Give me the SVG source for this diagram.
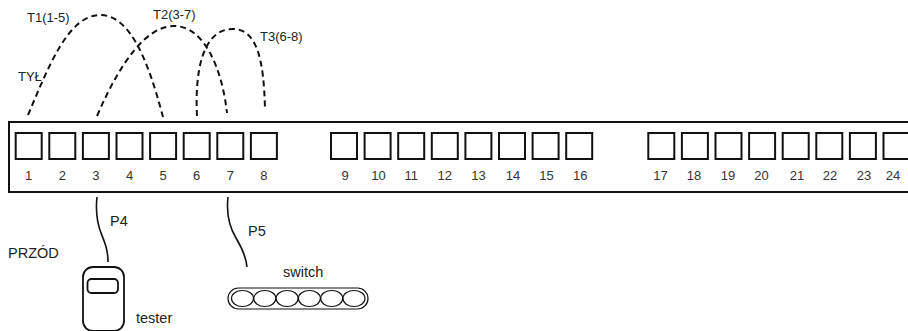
<svg xmlns="http://www.w3.org/2000/svg" width="908" height="331" viewBox="0 0 908 331">
  <style>
    .txt { font-family: "Liberation Sans", Arial, sans-serif; font-size: 14.5px; fill: #222; }
    .top { font-family: "Liberation Sans", Arial, sans-serif; font-size: 13px; fill: #222; }
    .num { font-family: "Liberation Sans", Arial, sans-serif; font-size: 13px; fill: #333; text-anchor: middle; }
    .port { fill: #fff; stroke: #111; stroke-width: 2; }
    .trunk { fill: none; stroke: #111; stroke-width: 2; stroke-dasharray: 6 4; }
    .cable { fill: none; stroke: #111; stroke-width: 1.6; }
  </style>
  <defs>
    <rect id="portBox" class="port" width="26" height="26"/>
  </defs>
  <rect width="908" height="331" fill="#fff"/>

  <!-- patch panel -->
  <g id="panel">
    <rect x="9" y="122" width="920" height="70" fill="#fff" stroke="#111" stroke-width="2"/>
    <g id="ports-1-8">
      <use href="#portBox" x="15.7" y="133"/><use href="#portBox" x="49.3" y="133"/>
      <use href="#portBox" x="82.9" y="133"/><use href="#portBox" x="116.5" y="133"/>
      <use href="#portBox" x="150.1" y="133"/><use href="#portBox" x="183.7" y="133"/>
      <use href="#portBox" x="217.3" y="133"/><use href="#portBox" x="250.9" y="133"/>
      <text class="num" x="28.7" y="180">1</text><text class="num" x="62.3" y="180">2</text>
      <text class="num" x="95.9" y="180">3</text><text class="num" x="129.5" y="180">4</text>
      <text class="num" x="163.1" y="180">5</text><text class="num" x="196.7" y="180">6</text>
      <text class="num" x="230.3" y="180">7</text><text class="num" x="263.9" y="180">8</text>
    </g>
    <g id="ports-9-16">
      <use href="#portBox" x="331" y="133"/><use href="#portBox" x="364.6" y="133"/>
      <use href="#portBox" x="398.2" y="133"/><use href="#portBox" x="431.8" y="133"/>
      <use href="#portBox" x="465.4" y="133"/><use href="#portBox" x="499" y="133"/>
      <use href="#portBox" x="532.6" y="133"/><use href="#portBox" x="566.2" y="133"/>
      <text class="num" x="345" y="180">9</text><text class="num" x="378.6" y="180">10</text>
      <text class="num" x="411.2" y="180">11</text><text class="num" x="444.8" y="180">12</text>
      <text class="num" x="478.4" y="180">13</text><text class="num" x="513" y="180">14</text>
      <text class="num" x="546.6" y="180">15</text><text class="num" x="580.2" y="180">16</text>
    </g>
    <g id="ports-17-24">
      <use href="#portBox" x="648.3" y="133"/><use href="#portBox" x="681.9" y="133"/>
      <use href="#portBox" x="715.5" y="133"/><use href="#portBox" x="749.1" y="133"/>
      <use href="#portBox" x="782.7" y="133"/><use href="#portBox" x="816.3" y="133"/>
      <use href="#portBox" x="849.9" y="133"/><use href="#portBox" x="883.5" y="133"/>
      <text class="num" x="660.5" y="180">17</text><text class="num" x="694" y="180">18</text>
      <text class="num" x="728" y="180">19</text><text class="num" x="761.5" y="180">20</text>
      <text class="num" x="797" y="180">21</text><text class="num" x="830" y="180">22</text>
      <text class="num" x="864" y="180">23</text><text class="num" x="893" y="180">24</text>
    </g>
  </g>

  <!-- rear trunk links and front patch cords -->
  <g id="connectors">
    <path class="trunk" d="M28,115 C48,68 68,15 100,15 C130,15 148,60 163,117"/>
    <path class="trunk" d="M97,116 C122,58 148,26 174,26 C204,26 222,68 227,113"/>
    <path class="trunk" d="M197,116 C195,78 200,29 233,29 C257,29 264,60 265,110"/>
    <path class="cable" d="M97,197 C95,215 98,225 101,233 C105,243 108,250 108,262"/>
    <path class="cable" d="M228,197 C226,215 230,228 236,238 C242,248 246,256 247,267"/>
  </g>

  <g id="labels">
    <text class="top" x="27" y="22">T1(1-5)</text>
    <text class="top" x="153" y="19">T2(3-7)</text>
    <text class="top" x="260" y="41">T3(6-8)</text>
    <text class="top" x="18" y="81" font-size="11.5">TYŁ</text>
    <text class="txt" x="110" y="226" font-size="14">P4</text>
    <text class="txt" x="248" y="236" font-size="14">P5</text>
    <text class="txt" x="8" y="258">PRZÓD</text>
  </g>

  <!-- handheld cable tester -->
  <g id="tester">
    <rect x="83" y="267" width="41" height="64" rx="10" fill="#fff" stroke="#111" stroke-width="1.8"/>
    <rect x="87.5" y="279" width="30.5" height="14" rx="4" fill="#fff" stroke="#111" stroke-width="1.8"/>
    <text class="txt" x="136" y="323">tester</text>
  </g>

  <!-- switch with six ports -->
  <g id="switch">
    <rect x="228" y="288" width="140" height="21" rx="10.5" fill="#fff" stroke="#111" stroke-width="1.2"/>
    <g fill="#fff" stroke="#111" stroke-width="1.2">
      <ellipse cx="242.5" cy="298.5" rx="11" ry="8"/>
      <ellipse cx="264.8" cy="298.5" rx="11" ry="8"/>
      <ellipse cx="287.1" cy="298.5" rx="11" ry="8"/>
      <ellipse cx="309.4" cy="298.5" rx="11" ry="8"/>
      <ellipse cx="331.7" cy="298.5" rx="11" ry="8"/>
      <ellipse cx="354" cy="298.5" rx="11" ry="8"/>
    </g>
    <text class="txt" x="283" y="277">switch</text>
  </g>
</svg>
